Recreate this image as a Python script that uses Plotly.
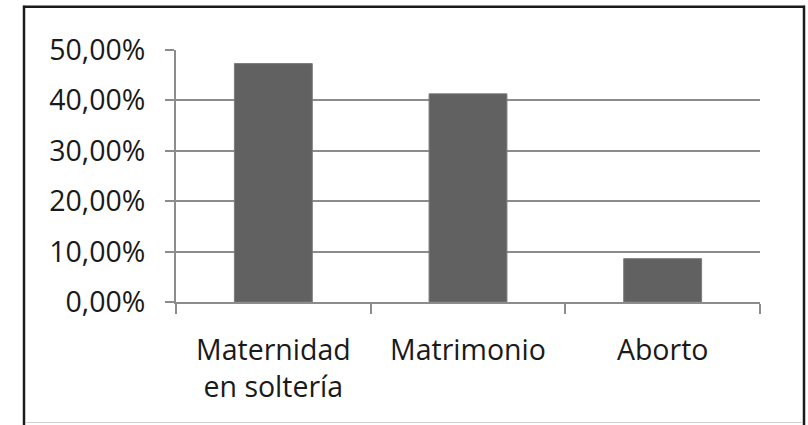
import plotly.graph_objects as go

categories = ["Maternidad<br>en soltería", "Matrimonio", "Aborto"]
values = [0.473, 0.413, 0.086]
y_ticks = [0, 0.1, 0.2, 0.3, 0.4, 0.5]
y_tick_labels = ["0,00%", "10,00%", "20,00%", "30,00%", "40,00%", "50,00%"]

fig = go.Figure()
fig.add_trace(go.Bar(
    x=categories, y=values,
    marker=dict(color="#616161", line=dict(color="#7a7a7a", width=1)),
    width=0.4,
))

grid = "#8c8c8c"
W, H = 808, 425
L, R, T, B = 176, 48, 49.5, 122.5
fig.update_layout(
    width=W, height=H,
    paper_bgcolor="white", plot_bgcolor="white",
    margin=dict(l=L, r=R, t=T, b=B, autoexpand=False),
    showlegend=False,
    font=dict(family="Open Sans", size=28.5, color="#1a1a1a"),
    xaxis=dict(
        type="category", tickson="boundaries", ticks="outside", ticklen=10,
        tickwidth=2, tickcolor=grid, showline=True, linecolor=grid, linewidth=2,
        showgrid=False, ticklabelstandoff=22,
    ),
    yaxis=dict(
        range=[0, 0.5], tickvals=y_ticks, ticktext=y_tick_labels,
        ticks="outside", ticklen=9, tickwidth=2, tickcolor=grid,
        showline=True, linecolor=grid, linewidth=2,
        showgrid=True, gridcolor=grid, gridwidth=2, zeroline=False,
        ticklabelstandoff=14,
    ),
)
# outer chart border (pixel positions via paper coords)
pw, ph = W - L - R, H - T - B
def px(x):
    return (x - L) / pw
def py(y):
    return (H - B - y) / ph
fig.layout.shapes = [
    dict(type="line", xref="paper", yref="paper", x0=px(24), x1=px(24), y0=py(5), y1=py(426),
         line=dict(color="#1a1a1a", width=2.5)),
    dict(type="line", xref="paper", yref="paper", x0=px(804), x1=px(804), y0=py(5), y1=py(426),
         line=dict(color="#1a1a1a", width=2.5)),
    dict(type="line", xref="paper", yref="paper", x0=px(23), x1=px(805), y0=py(6), y1=py(6),
         line=dict(color="#1a1a1a", width=2.5)),
    dict(type="line", xref="paper", yref="paper", x0=px(25), x1=px(803), y0=py(423.5), y1=py(423.5),
         line=dict(color="#d0d0d0", width=1)),
]
fig.write_html("out.html", config={"displayModeBar": False},
               post_script="document.body.style.margin='0';document.body.style.padding='0';")
